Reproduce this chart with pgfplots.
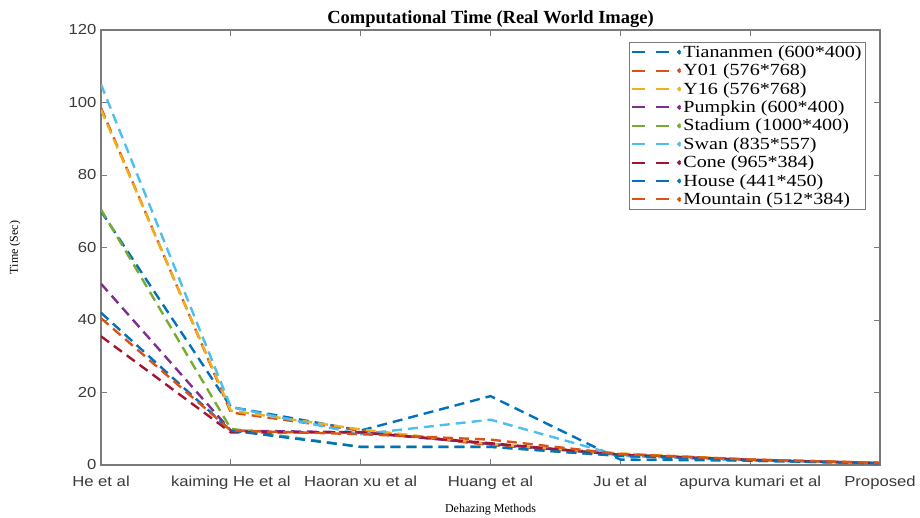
\documentclass[border=0pt]{standalone}
\usepackage{pgfplots}
\pgfplotsset{compat=1.18}
\usepackage{fontspec}
\setmainfont{Liberation Serif}
\newfontfamily\legendfont[FakeStretch=1.18]{Liberation Serif}
\newfontfamily\ticksfont[FakeStretch=1.15]{Liberation Sans}

\definecolor{mBlue}{HTML}{0072BD}
\definecolor{mOrange}{HTML}{D95319}
\definecolor{mYellow}{HTML}{EDB120}
\definecolor{mPurple}{HTML}{7E2F8E}
\definecolor{mGreen}{HTML}{77AC30}
\definecolor{mCyan}{HTML}{4DBEEE}
\definecolor{mRed}{HTML}{A2142F}
\definecolor{axisgray}{HTML}{7A7A7A}
\definecolor{labelgray}{HTML}{3A3A3A}

% x: 0 He et al, 1 kaiming He et al, 2 Haoran xu et al, 3 Huang et al,
%    4 Ju et al, 5 apurva kumari et al, 6 Proposed
\pgfplotstableread{
x tian y01 y16 pump stad swan cone house mount
0 70.0 98.5 98.0 50.0 70.5 105.0 35.5 42.0 40.5
1 16.0 14.5 15.0  9.5 10.0  16.0  9.0  9.5  9.5
2  9.5  9.5  9.8  9.0  5.0   8.5  9.0  5.0  8.5
3 19.0  5.5  5.8  5.8  5.0  12.5  6.0  5.0  7.0
4  1.5  3.0  3.2  2.8  2.5   2.5  2.8  2.5  3.0
5  1.2  1.5  1.5  1.4  1.3   1.3  1.4  1.2  1.5
6  0.5  0.6  0.6  0.5  0.5   0.5  0.5  0.5  0.6
}\timetable

\begin{document}
\begin{tikzpicture}
\path[use as bounding box] (-101pt,-53pt) rectangle (819pt,465pt);
\begin{axis}[
  at={(0pt,0pt)}, anchor=south west,
  scale only axis,
  width=779pt, height=435pt,
  xmin=0, xmax=6, ymin=0, ymax=120,
  xtick={0,...,6},
  xticklabels={He et al, kaiming He et al, Haoran xu et al, Huang et al, Ju et al, apurva kumari et al, Proposed},
  ytick={0,20,...,120},
  tick align=inside,
  major tick length=6pt,
  tick style={axisgray, line width=0.8pt},
  axis line style={axisgray, line width=1.2pt},
  /pgf/number format/assume math mode=true,
  tick label style={font=\ticksfont\fontsize{14.5}{16}\selectfont, text=labelgray},
  xticklabel style={yshift=-7pt},
  yticklabel style={xshift=-1pt},
  title={\bfseries Computational Time (Real World Image)},
  title style={font=\fontsize{18.5}{20}\selectfont, at={(0.5,1)}, anchor=base, yshift=0pt},
  xlabel={Dehazing Methods},
  ylabel={Time (Sec)},
  label style={font=\fontsize{12}{14}\selectfont},
  xlabel style={at={(axis description cs:0.5,-0.1034)}, anchor=center},
  ylabel style={at={(axis description cs:-0.1104,0.5)}, anchor=center},
  legend style={
    at={(0.982,0.972)}, anchor=north east,
    draw=axisgray, line width=0.8pt,
    font=\legendfont\fontsize{17}{17}\selectfont,
    inner xsep=2pt, inner ysep=1pt,
    row sep=1.1pt,
    cells={anchor=west},
  },
  legend image code/.code={
    \draw[#1, line width=2pt, dash pattern=on 13pt off 11pt] (0pt,0pt) -- (37pt,0pt);
    \fill[#1] (47pt,0pt) circle (0.9pt);
  },
  legend style={/tikz/every odd column/.append style={inner xsep=6pt}},
  every axis plot/.append style={line width=2.4pt, dash pattern=on 10pt off 6pt},
]
\addplot[mBlue]   table[x=x, y=tian]  {\timetable};
\addlegendentry{Tiananmen (600*400)}
\addplot[mOrange] table[x=x, y=y01]   {\timetable};
\addlegendentry{Y01 (576*768)}
\addplot[mYellow] table[x=x, y=y16]   {\timetable};
\addlegendentry{Y16 (576*768)}
\addplot[mPurple] table[x=x, y=pump]  {\timetable};
\addlegendentry{Pumpkin (600*400)}
\addplot[mGreen]  table[x=x, y=stad]  {\timetable};
\addlegendentry{Stadium (1000*400)}
\addplot[mCyan]   table[x=x, y=swan]  {\timetable};
\addlegendentry{Swan (835*557)}
\addplot[mRed]    table[x=x, y=cone]  {\timetable};
\addlegendentry{Cone (965*384)}
\addplot[mBlue]   table[x=x, y=house] {\timetable};
\addlegendentry{House (441*450)}
\addplot[mOrange] table[x=x, y=mount] {\timetable};
\addlegendentry{Mountain (512*384)}
\end{axis}
\end{tikzpicture}
\end{document}
